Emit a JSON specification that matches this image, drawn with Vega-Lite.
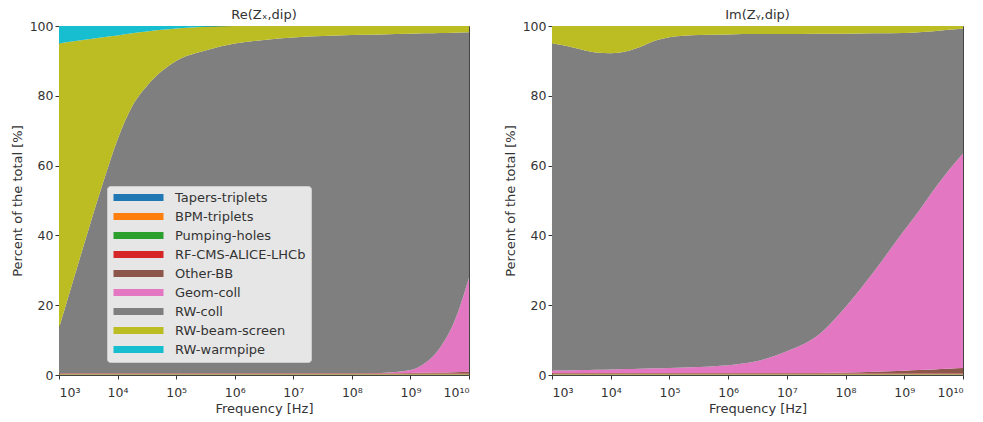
{
  "$schema": "https://vega.github.io/schema/vega-lite/v6.json",
  "padding": {"left": 10, "top": 8, "right": 6, "bottom": 2},
  "background": "white",
  "config": {
    "font": "DejaVu Sans",
    "view": {"stroke": "#444", "strokeWidth": 1},
    "axis": {"labelFont": "DejaVu Sans", "labelFontSize": 12.5, "labelColor": "#333", "titleFont": "DejaVu Sans", "titleFontSize": 13, "titleFontWeight": "normal", "titleColor": "#333", "tickColor": "#333", "domain": false, "grid": false, "tickSize": 4, "labelPadding": 2},
    "title": {"font": "DejaVu Sans", "fontSize": 13, "fontWeight": "normal", "color": "#333", "offset": -2},
    "concat": {"spacing": 33}
  },
  "datasets": {
    "comp": [
      {"c": "Tapers-triplets", "i": 1}, {"c": "BPM-triplets", "i": 2}, {"c": "Pumping-holes", "i": 3}, {"c": "RF-CMS-ALICE-LHCb", "i": 4}, {"c": "Other-BB", "i": 5}, {"c": "Geom-coll", "i": 6}, {"c": "RW-coll", "i": 7}, {"c": "RW-beam-screen", "i": 8}, {"c": "RW-warmpipe", "i": 9}
    ],
    "re": [
      {"f":1000,"c":"Tapers-triplets","v":0.1},{"f":1000,"c":"BPM-triplets","v":0.1},{"f":1000,"c":"Pumping-holes","v":0.1},{"f":1000,"c":"RF-CMS-ALICE-LHCb","v":0.1},{"f":1000,"c":"Other-BB","v":0.1},{"f":1000,"c":"Geom-coll","v":0},{"f":1000,"c":"RW-coll","v":13},{"f":1000,"c":"RW-beam-screen","v":81.5},{"f":1000,"c":"RW-warmpipe","v":5},
      {"f":1778.28,"c":"Tapers-triplets","v":0.1},{"f":1778.28,"c":"BPM-triplets","v":0.1},{"f":1778.28,"c":"Pumping-holes","v":0.1},{"f":1778.28,"c":"RF-CMS-ALICE-LHCb","v":0.1},{"f":1778.28,"c":"Other-BB","v":0.1},{"f":1778.28,"c":"Geom-coll","v":0},{"f":1778.28,"c":"RW-coll","v":27},{"f":1778.28,"c":"RW-beam-screen","v":68.1},{"f":1778.28,"c":"RW-warmpipe","v":4.4},
      {"f":3162.28,"c":"Tapers-triplets","v":0.1},{"f":3162.28,"c":"BPM-triplets","v":0.1},{"f":3162.28,"c":"Pumping-holes","v":0.1},{"f":3162.28,"c":"RF-CMS-ALICE-LHCb","v":0.1},{"f":3162.28,"c":"Other-BB","v":0.1},{"f":3162.28,"c":"Geom-coll","v":0},{"f":3162.28,"c":"RW-coll","v":41},{"f":3162.28,"c":"RW-beam-screen","v":54.7},{"f":3162.28,"c":"RW-warmpipe","v":3.8},
      {"f":5623.41,"c":"Tapers-triplets","v":0.1},{"f":5623.41,"c":"BPM-triplets","v":0.1},{"f":5623.41,"c":"Pumping-holes","v":0.1},{"f":5623.41,"c":"RF-CMS-ALICE-LHCb","v":0.1},{"f":5623.41,"c":"Other-BB","v":0.1},{"f":5623.41,"c":"Geom-coll","v":0},{"f":5623.41,"c":"RW-coll","v":54.5},{"f":5623.41,"c":"RW-beam-screen","v":41.8},{"f":5623.41,"c":"RW-warmpipe","v":3.2},
      {"f":10000,"c":"Tapers-triplets","v":0.1},{"f":10000,"c":"BPM-triplets","v":0.1},{"f":10000,"c":"Pumping-holes","v":0.1},{"f":10000,"c":"RF-CMS-ALICE-LHCb","v":0.1},{"f":10000,"c":"Other-BB","v":0.1},{"f":10000,"c":"Geom-coll","v":0},{"f":10000,"c":"RW-coll","v":67},{"f":10000,"c":"RW-beam-screen","v":29.8},{"f":10000,"c":"RW-warmpipe","v":2.7},
      {"f":17782.8,"c":"Tapers-triplets","v":0.1},{"f":17782.8,"c":"BPM-triplets","v":0.1},{"f":17782.8,"c":"Pumping-holes","v":0.1},{"f":17782.8,"c":"RF-CMS-ALICE-LHCb","v":0.1},{"f":17782.8,"c":"Other-BB","v":0.1},{"f":17782.8,"c":"Geom-coll","v":0},{"f":17782.8,"c":"RW-coll","v":76.5},{"f":17782.8,"c":"RW-beam-screen","v":20.9},{"f":17782.8,"c":"RW-warmpipe","v":2.1},
      {"f":31622.8,"c":"Tapers-triplets","v":0.1},{"f":31622.8,"c":"BPM-triplets","v":0.1},{"f":31622.8,"c":"Pumping-holes","v":0.1},{"f":31622.8,"c":"RF-CMS-ALICE-LHCb","v":0.1},{"f":31622.8,"c":"Other-BB","v":0.1},{"f":31622.8,"c":"Geom-coll","v":0},{"f":31622.8,"c":"RW-coll","v":82.3},{"f":31622.8,"c":"RW-beam-screen","v":15.6},{"f":31622.8,"c":"RW-warmpipe","v":1.6},
      {"f":56234.1,"c":"Tapers-triplets","v":0.1},{"f":56234.1,"c":"BPM-triplets","v":0.1},{"f":56234.1,"c":"Pumping-holes","v":0.1},{"f":56234.1,"c":"RF-CMS-ALICE-LHCb","v":0.1},{"f":56234.1,"c":"Other-BB","v":0.1},{"f":56234.1,"c":"Geom-coll","v":0},{"f":56234.1,"c":"RW-coll","v":86.5},{"f":56234.1,"c":"RW-beam-screen","v":11.9},{"f":56234.1,"c":"RW-warmpipe","v":1.1},
      {"f":100000,"c":"Tapers-triplets","v":0.1},{"f":100000,"c":"BPM-triplets","v":0.1},{"f":100000,"c":"Pumping-holes","v":0.1},{"f":100000,"c":"RF-CMS-ALICE-LHCb","v":0.1},{"f":100000,"c":"Other-BB","v":0.1},{"f":100000,"c":"Geom-coll","v":0},{"f":100000,"c":"RW-coll","v":89.5},{"f":100000,"c":"RW-beam-screen","v":9.3},{"f":100000,"c":"RW-warmpipe","v":0.7},
      {"f":316228,"c":"Tapers-triplets","v":0.1},{"f":316228,"c":"BPM-triplets","v":0.1},{"f":316228,"c":"Pumping-holes","v":0.1},{"f":316228,"c":"RF-CMS-ALICE-LHCb","v":0.1},{"f":316228,"c":"Other-BB","v":0.1},{"f":316228,"c":"Geom-coll","v":0},{"f":316228,"c":"RW-coll","v":92.5},{"f":316228,"c":"RW-beam-screen","v":6.8},{"f":316228,"c":"RW-warmpipe","v":0.2},
      {"f":1000000,"c":"Tapers-triplets","v":0.1},{"f":1000000,"c":"BPM-triplets","v":0.1},{"f":1000000,"c":"Pumping-holes","v":0.1},{"f":1000000,"c":"RF-CMS-ALICE-LHCb","v":0.1},{"f":1000000,"c":"Other-BB","v":0.1},{"f":1000000,"c":"Geom-coll","v":0},{"f":1000000,"c":"RW-coll","v":94.5},{"f":1000000,"c":"RW-beam-screen","v":5},{"f":1000000,"c":"RW-warmpipe","v":0},
      {"f":3162278,"c":"Tapers-triplets","v":0.1},{"f":3162278,"c":"BPM-triplets","v":0.1},{"f":3162278,"c":"Pumping-holes","v":0.1},{"f":3162278,"c":"RF-CMS-ALICE-LHCb","v":0.1},{"f":3162278,"c":"Other-BB","v":0.1},{"f":3162278,"c":"Geom-coll","v":0},{"f":3162278,"c":"RW-coll","v":95.5},{"f":3162278,"c":"RW-beam-screen","v":4},{"f":3162278,"c":"RW-warmpipe","v":0},
      {"f":10000000,"c":"Tapers-triplets","v":0.1},{"f":10000000,"c":"BPM-triplets","v":0.1},{"f":10000000,"c":"Pumping-holes","v":0.1},{"f":10000000,"c":"RF-CMS-ALICE-LHCb","v":0.1},{"f":10000000,"c":"Other-BB","v":0.1},{"f":10000000,"c":"Geom-coll","v":0},{"f":10000000,"c":"RW-coll","v":96.2},{"f":10000000,"c":"RW-beam-screen","v":3.3},{"f":10000000,"c":"RW-warmpipe","v":0},
      {"f":31622777,"c":"Tapers-triplets","v":0.1},{"f":31622777,"c":"BPM-triplets","v":0.1},{"f":31622777,"c":"Pumping-holes","v":0.1},{"f":31622777,"c":"RF-CMS-ALICE-LHCb","v":0.1},{"f":31622777,"c":"Other-BB","v":0.1},{"f":31622777,"c":"Geom-coll","v":0},{"f":31622777,"c":"RW-coll","v":96.6},{"f":31622777,"c":"RW-beam-screen","v":2.9},{"f":31622777,"c":"RW-warmpipe","v":0},
      {"f":100000000,"c":"Tapers-triplets","v":0.1},{"f":100000000,"c":"BPM-triplets","v":0.1},{"f":100000000,"c":"Pumping-holes","v":0.1},{"f":100000000,"c":"RF-CMS-ALICE-LHCb","v":0.1},{"f":100000000,"c":"Other-BB","v":0.1},{"f":100000000,"c":"Geom-coll","v":0},{"f":100000000,"c":"RW-coll","v":96.9},{"f":100000000,"c":"RW-beam-screen","v":2.6},{"f":100000000,"c":"RW-warmpipe","v":0},
      {"f":316227766,"c":"Tapers-triplets","v":0.1},{"f":316227766,"c":"BPM-triplets","v":0.1},{"f":316227766,"c":"Pumping-holes","v":0.1},{"f":316227766,"c":"RF-CMS-ALICE-LHCb","v":0.1},{"f":316227766,"c":"Other-BB","v":0.1},{"f":316227766,"c":"Geom-coll","v":0.1},{"f":316227766,"c":"RW-coll","v":97.0},{"f":316227766,"c":"RW-beam-screen","v":2.4},{"f":316227766,"c":"RW-warmpipe","v":0},
      {"f":1000000000,"c":"Tapers-triplets","v":0.1},{"f":1000000000,"c":"BPM-triplets","v":0.1},{"f":1000000000,"c":"Pumping-holes","v":0.1},{"f":1000000000,"c":"RF-CMS-ALICE-LHCb","v":0.1},{"f":1000000000,"c":"Other-BB","v":0.2},{"f":1000000000,"c":"Geom-coll","v":0.8},{"f":1000000000,"c":"RW-coll","v":96.4},{"f":1000000000,"c":"RW-beam-screen","v":2.2},{"f":1000000000,"c":"RW-warmpipe","v":0},
      {"f":1778279410,"c":"Tapers-triplets","v":0.1},{"f":1778279410,"c":"BPM-triplets","v":0.1},{"f":1778279410,"c":"Pumping-holes","v":0.1},{"f":1778279410,"c":"RF-CMS-ALICE-LHCb","v":0.1},{"f":1778279410,"c":"Other-BB","v":0.25},{"f":1778279410,"c":"Geom-coll","v":2.8},{"f":1778279410,"c":"RW-coll","v":94.45},{"f":1778279410,"c":"RW-beam-screen","v":2.1},{"f":1778279410,"c":"RW-warmpipe","v":0},
      {"f":3162277660,"c":"Tapers-triplets","v":0.1},{"f":3162277660,"c":"BPM-triplets","v":0.1},{"f":3162277660,"c":"Pumping-holes","v":0.1},{"f":3162277660,"c":"RF-CMS-ALICE-LHCb","v":0.1},{"f":3162277660,"c":"Other-BB","v":0.3},{"f":3162277660,"c":"Geom-coll","v":7},{"f":3162277660,"c":"RW-coll","v":90.3},{"f":3162277660,"c":"RW-beam-screen","v":2},{"f":3162277660,"c":"RW-warmpipe","v":0},
      {"f":5623413252,"c":"Tapers-triplets","v":0.1},{"f":5623413252,"c":"BPM-triplets","v":0.1},{"f":5623413252,"c":"Pumping-holes","v":0.1},{"f":5623413252,"c":"RF-CMS-ALICE-LHCb","v":0.1},{"f":5623413252,"c":"Other-BB","v":0.4},{"f":5623413252,"c":"Geom-coll","v":14.5},{"f":5623413252,"c":"RW-coll","v":82.8},{"f":5623413252,"c":"RW-beam-screen","v":1.9},{"f":5623413252,"c":"RW-warmpipe","v":0},
      {"f":10000000000,"c":"Tapers-triplets","v":0.1},{"f":10000000000,"c":"BPM-triplets","v":0.1},{"f":10000000000,"c":"Pumping-holes","v":0.1},{"f":10000000000,"c":"RF-CMS-ALICE-LHCb","v":0.1},{"f":10000000000,"c":"Other-BB","v":0.5},{"f":10000000000,"c":"Geom-coll","v":27},{"f":10000000000,"c":"RW-coll","v":70.3},{"f":10000000000,"c":"RW-beam-screen","v":1.8},{"f":10000000000,"c":"RW-warmpipe","v":0}
    ],
    "im": [
      {"f":1000,"c":"Tapers-triplets","v":0.1},{"f":1000,"c":"BPM-triplets","v":0.1},{"f":1000,"c":"Pumping-holes","v":0.1},{"f":1000,"c":"RF-CMS-ALICE-LHCb","v":0.1},{"f":1000,"c":"Other-BB","v":0.2},{"f":1000,"c":"Geom-coll","v":0.7},{"f":1000,"c":"RW-coll","v":93.7},{"f":1000,"c":"RW-beam-screen","v":5},
      {"f":1778.28,"c":"Tapers-triplets","v":0.1},{"f":1778.28,"c":"BPM-triplets","v":0.1},{"f":1778.28,"c":"Pumping-holes","v":0.1},{"f":1778.28,"c":"RF-CMS-ALICE-LHCb","v":0.1},{"f":1778.28,"c":"Other-BB","v":0.2},{"f":1778.28,"c":"Geom-coll","v":0.7},{"f":1778.28,"c":"RW-coll","v":93.0},{"f":1778.28,"c":"RW-beam-screen","v":5.7},
      {"f":3162.28,"c":"Tapers-triplets","v":0.1},{"f":3162.28,"c":"BPM-triplets","v":0.1},{"f":3162.28,"c":"Pumping-holes","v":0.1},{"f":3162.28,"c":"RF-CMS-ALICE-LHCb","v":0.1},{"f":3162.28,"c":"Other-BB","v":0.2},{"f":3162.28,"c":"Geom-coll","v":0.8},{"f":3162.28,"c":"RW-coll","v":91.9},{"f":3162.28,"c":"RW-beam-screen","v":6.7},
      {"f":5623.41,"c":"Tapers-triplets","v":0.1},{"f":5623.41,"c":"BPM-triplets","v":0.1},{"f":5623.41,"c":"Pumping-holes","v":0.1},{"f":5623.41,"c":"RF-CMS-ALICE-LHCb","v":0.1},{"f":5623.41,"c":"Other-BB","v":0.2},{"f":5623.41,"c":"Geom-coll","v":0.9},{"f":5623.41,"c":"RW-coll","v":90.9},{"f":5623.41,"c":"RW-beam-screen","v":7.6},
      {"f":10000,"c":"Tapers-triplets","v":0.1},{"f":10000,"c":"BPM-triplets","v":0.1},{"f":10000,"c":"Pumping-holes","v":0.1},{"f":10000,"c":"RF-CMS-ALICE-LHCb","v":0.1},{"f":10000,"c":"Other-BB","v":0.2},{"f":10000,"c":"Geom-coll","v":1.0},{"f":10000,"c":"RW-coll","v":90.6},{"f":10000,"c":"RW-beam-screen","v":7.8},
      {"f":17782.8,"c":"Tapers-triplets","v":0.1},{"f":17782.8,"c":"BPM-triplets","v":0.1},{"f":17782.8,"c":"Pumping-holes","v":0.1},{"f":17782.8,"c":"RF-CMS-ALICE-LHCb","v":0.1},{"f":17782.8,"c":"Other-BB","v":0.2},{"f":17782.8,"c":"Geom-coll","v":1.1},{"f":17782.8,"c":"RW-coll","v":91.0},{"f":17782.8,"c":"RW-beam-screen","v":7.3},
      {"f":31622.8,"c":"Tapers-triplets","v":0.1},{"f":31622.8,"c":"BPM-triplets","v":0.1},{"f":31622.8,"c":"Pumping-holes","v":0.1},{"f":31622.8,"c":"RF-CMS-ALICE-LHCb","v":0.1},{"f":31622.8,"c":"Other-BB","v":0.2},{"f":31622.8,"c":"Geom-coll","v":1.2},{"f":31622.8,"c":"RW-coll","v":92.2},{"f":31622.8,"c":"RW-beam-screen","v":6.0},
      {"f":56234.1,"c":"Tapers-triplets","v":0.1},{"f":56234.1,"c":"BPM-triplets","v":0.1},{"f":56234.1,"c":"Pumping-holes","v":0.1},{"f":56234.1,"c":"RF-CMS-ALICE-LHCb","v":0.1},{"f":56234.1,"c":"Other-BB","v":0.2},{"f":56234.1,"c":"Geom-coll","v":1.3},{"f":56234.1,"c":"RW-coll","v":93.9},{"f":56234.1,"c":"RW-beam-screen","v":4.2},
      {"f":100000,"c":"Tapers-triplets","v":0.1},{"f":100000,"c":"BPM-triplets","v":0.1},{"f":100000,"c":"Pumping-holes","v":0.1},{"f":100000,"c":"RF-CMS-ALICE-LHCb","v":0.1},{"f":100000,"c":"Other-BB","v":0.2},{"f":100000,"c":"Geom-coll","v":1.4},{"f":100000,"c":"RW-coll","v":94.8},{"f":100000,"c":"RW-beam-screen","v":3.2},
      {"f":316228,"c":"Tapers-triplets","v":0.1},{"f":316228,"c":"BPM-triplets","v":0.1},{"f":316228,"c":"Pumping-holes","v":0.1},{"f":316228,"c":"RF-CMS-ALICE-LHCb","v":0.1},{"f":316228,"c":"Other-BB","v":0.2},{"f":316228,"c":"Geom-coll","v":1.7},{"f":316228,"c":"RW-coll","v":95.1},{"f":316228,"c":"RW-beam-screen","v":2.6},
      {"f":1000000,"c":"Tapers-triplets","v":0.1},{"f":1000000,"c":"BPM-triplets","v":0.1},{"f":1000000,"c":"Pumping-holes","v":0.1},{"f":1000000,"c":"RF-CMS-ALICE-LHCb","v":0.1},{"f":1000000,"c":"Other-BB","v":0.2},{"f":1000000,"c":"Geom-coll","v":2.2},{"f":1000000,"c":"RW-coll","v":94.8},{"f":1000000,"c":"RW-beam-screen","v":2.4},
      {"f":3162278,"c":"Tapers-triplets","v":0.1},{"f":3162278,"c":"BPM-triplets","v":0.1},{"f":3162278,"c":"Pumping-holes","v":0.1},{"f":3162278,"c":"RF-CMS-ALICE-LHCb","v":0.1},{"f":3162278,"c":"Other-BB","v":0.2},{"f":3162278,"c":"Geom-coll","v":3.4},{"f":3162278,"c":"RW-coll","v":93.7},{"f":3162278,"c":"RW-beam-screen","v":2.3},
      {"f":10000000,"c":"Tapers-triplets","v":0.1},{"f":10000000,"c":"BPM-triplets","v":0.1},{"f":10000000,"c":"Pumping-holes","v":0.1},{"f":10000000,"c":"RF-CMS-ALICE-LHCb","v":0.1},{"f":10000000,"c":"Other-BB","v":0.2},{"f":10000000,"c":"Geom-coll","v":6.2},{"f":10000000,"c":"RW-coll","v":90.9},{"f":10000000,"c":"RW-beam-screen","v":2.3},
      {"f":31622777,"c":"Tapers-triplets","v":0.1},{"f":31622777,"c":"BPM-triplets","v":0.1},{"f":31622777,"c":"Pumping-holes","v":0.1},{"f":31622777,"c":"RF-CMS-ALICE-LHCb","v":0.1},{"f":31622777,"c":"Other-BB","v":0.2},{"f":31622777,"c":"Geom-coll","v":10.4},{"f":31622777,"c":"RW-coll","v":86.8},{"f":31622777,"c":"RW-beam-screen","v":2.2},
      {"f":100000000,"c":"Tapers-triplets","v":0.1},{"f":100000000,"c":"BPM-triplets","v":0.1},{"f":100000000,"c":"Pumping-holes","v":0.1},{"f":100000000,"c":"RF-CMS-ALICE-LHCb","v":0.1},{"f":100000000,"c":"Other-BB","v":0.3},{"f":100000000,"c":"Geom-coll","v":18.8},{"f":100000000,"c":"RW-coll","v":78.3},{"f":100000000,"c":"RW-beam-screen","v":2.2},
      {"f":316227766,"c":"Tapers-triplets","v":0.1},{"f":316227766,"c":"BPM-triplets","v":0.1},{"f":316227766,"c":"Pumping-holes","v":0.1},{"f":316227766,"c":"RF-CMS-ALICE-LHCb","v":0.1},{"f":316227766,"c":"Other-BB","v":0.5},{"f":316227766,"c":"Geom-coll","v":29.1},{"f":316227766,"c":"RW-coll","v":67.9},{"f":316227766,"c":"RW-beam-screen","v":2.1},
      {"f":1000000000,"c":"Tapers-triplets","v":0.1},{"f":1000000000,"c":"BPM-triplets","v":0.1},{"f":1000000000,"c":"Pumping-holes","v":0.1},{"f":1000000000,"c":"RF-CMS-ALICE-LHCb","v":0.1},{"f":1000000000,"c":"Other-BB","v":0.8},{"f":1000000000,"c":"Geom-coll","v":40.3},{"f":1000000000,"c":"RW-coll","v":56.5},{"f":1000000000,"c":"RW-beam-screen","v":2.0},
      {"f":1778279410,"c":"Tapers-triplets","v":0.1},{"f":1778279410,"c":"BPM-triplets","v":0.1},{"f":1778279410,"c":"Pumping-holes","v":0.1},{"f":1778279410,"c":"RF-CMS-ALICE-LHCb","v":0.1},{"f":1778279410,"c":"Other-BB","v":1.0},{"f":1778279410,"c":"Geom-coll","v":45.6},{"f":1778279410,"c":"RW-coll","v":51.2},{"f":1778279410,"c":"RW-beam-screen","v":1.8},
      {"f":3162277660,"c":"Tapers-triplets","v":0.1},{"f":3162277660,"c":"BPM-triplets","v":0.1},{"f":3162277660,"c":"Pumping-holes","v":0.1},{"f":3162277660,"c":"RF-CMS-ALICE-LHCb","v":0.1},{"f":3162277660,"c":"Other-BB","v":1.2},{"f":3162277660,"c":"Geom-coll","v":51.4},{"f":3162277660,"c":"RW-coll","v":45.5},{"f":3162277660,"c":"RW-beam-screen","v":1.5},
      {"f":5623413252,"c":"Tapers-triplets","v":0.1},{"f":5623413252,"c":"BPM-triplets","v":0.1},{"f":5623413252,"c":"Pumping-holes","v":0.1},{"f":5623413252,"c":"RF-CMS-ALICE-LHCb","v":0.1},{"f":5623413252,"c":"Other-BB","v":1.4},{"f":5623413252,"c":"Geom-coll","v":56.7},{"f":5623413252,"c":"RW-coll","v":40.4},{"f":5623413252,"c":"RW-beam-screen","v":1.1},
      {"f":10000000000,"c":"Tapers-triplets","v":0.1},{"f":10000000000,"c":"BPM-triplets","v":0.1},{"f":10000000000,"c":"Pumping-holes","v":0.1},{"f":10000000000,"c":"RF-CMS-ALICE-LHCb","v":0.1},{"f":10000000000,"c":"Other-BB","v":1.6},{"f":10000000000,"c":"Geom-coll","v":61.5},{"f":10000000000,"c":"RW-coll","v":35.8},{"f":10000000000,"c":"RW-beam-screen","v":0.7}
    ]
  },
  "hconcat": [
    {
      "title": "Re(Zₓ,dip)",
      "width": 410,
      "height": 349,
      "data": {"name": "re"},
      "transform": [{"lookup": "c", "from": {"data": {"name": "comp"}, "key": "c", "fields": ["i"]}}],
      "mark": {"type": "area", "interpolate": "monotone"},
      "encoding": {
        "x": {"field": "f", "type": "quantitative", "scale": {"type": "log", "domain": [1000, 10000000000], "nice": false},
          "axis": {"values": [1000, 10000, 100000, 1000000, 10000000, 100000000, 1000000000, 10000000000], "title": "Frequency [Hz]", "titlePadding": 4, "labelPadding": 7,
            "labelExpr": "'10' + (round(log(datum.value)/LN10) == 10 ? '¹⁰' : substring('⁰¹²³⁴⁵⁶⁷⁸⁹', round(log(datum.value)/LN10), round(log(datum.value)/LN10) + 1))"}},
        "y": {"field": "v", "type": "quantitative", "stack": "zero", "scale": {"domain": [0, 100], "nice": false},
          "axis": {"values": [0, 20, 40, 60, 80, 100], "title": "Percent of the total [%]", "titlePadding": 5}},
        "color": {"field": "c", "type": "nominal",
          "scale": {"domain": ["Tapers-triplets", "BPM-triplets", "Pumping-holes", "RF-CMS-ALICE-LHCb", "Other-BB", "Geom-coll", "RW-coll", "RW-beam-screen", "RW-warmpipe"],
            "range": ["#1f77b4", "#ff7f0e", "#2ca02c", "#d62728", "#8c564b", "#e377c2", "#7f7f7f", "#bcbd22", "#17becf"]},
          "legend": {"orient": "none", "legendX": 48, "legendY": 160, "title": null, "fillColor": "#e6e6e6", "strokeColor": "#cccccc", "padding": 5, "cornerRadius": 3,
            "symbolType": "M-1,-0.7H9V0.7H-1Z", "symbolSize": 100, "symbolStrokeWidth": 0, "symbolOpacity": 1,
            "labelFont": "DejaVu Sans", "labelFontSize": 13, "labelColor": "#333", "rowPadding": 5, "labelOffset": 50}},
        "order": {"field": "i", "type": "quantitative"}
      }
    },
    {
      "title": "Im(Zᵧ,dip)",
      "width": 411,
      "height": 349,
      "data": {"name": "im"},
      "transform": [{"lookup": "c", "from": {"data": {"name": "comp"}, "key": "c", "fields": ["i"]}}],
      "mark": {"type": "area", "interpolate": "monotone"},
      "encoding": {
        "x": {"field": "f", "type": "quantitative", "scale": {"type": "log", "domain": [1000, 10000000000], "nice": false},
          "axis": {"values": [1000, 10000, 100000, 1000000, 10000000, 100000000, 1000000000, 10000000000], "title": "Frequency [Hz]", "titlePadding": 4, "labelPadding": 7,
            "labelExpr": "'10' + (round(log(datum.value)/LN10) == 10 ? '¹⁰' : substring('⁰¹²³⁴⁵⁶⁷⁸⁹', round(log(datum.value)/LN10), round(log(datum.value)/LN10) + 1))"}},
        "y": {"field": "v", "type": "quantitative", "stack": "zero", "scale": {"domain": [0, 100], "nice": false},
          "axis": {"values": [0, 20, 40, 60, 80, 100], "title": "Percent of the total [%]", "titlePadding": 5}},
        "color": {"field": "c", "type": "nominal",
          "scale": {"domain": ["Tapers-triplets", "BPM-triplets", "Pumping-holes", "RF-CMS-ALICE-LHCb", "Other-BB", "Geom-coll", "RW-coll", "RW-beam-screen", "RW-warmpipe"],
            "range": ["#1f77b4", "#ff7f0e", "#2ca02c", "#d62728", "#8c564b", "#e377c2", "#7f7f7f", "#bcbd22", "#17becf"]},
          "legend": null},
        "order": {"field": "i", "type": "quantitative"}
      }
    }
  ],
  "resolve": {"scale": {"color": "independent"}, "legend": {"color": "independent"}}
}
